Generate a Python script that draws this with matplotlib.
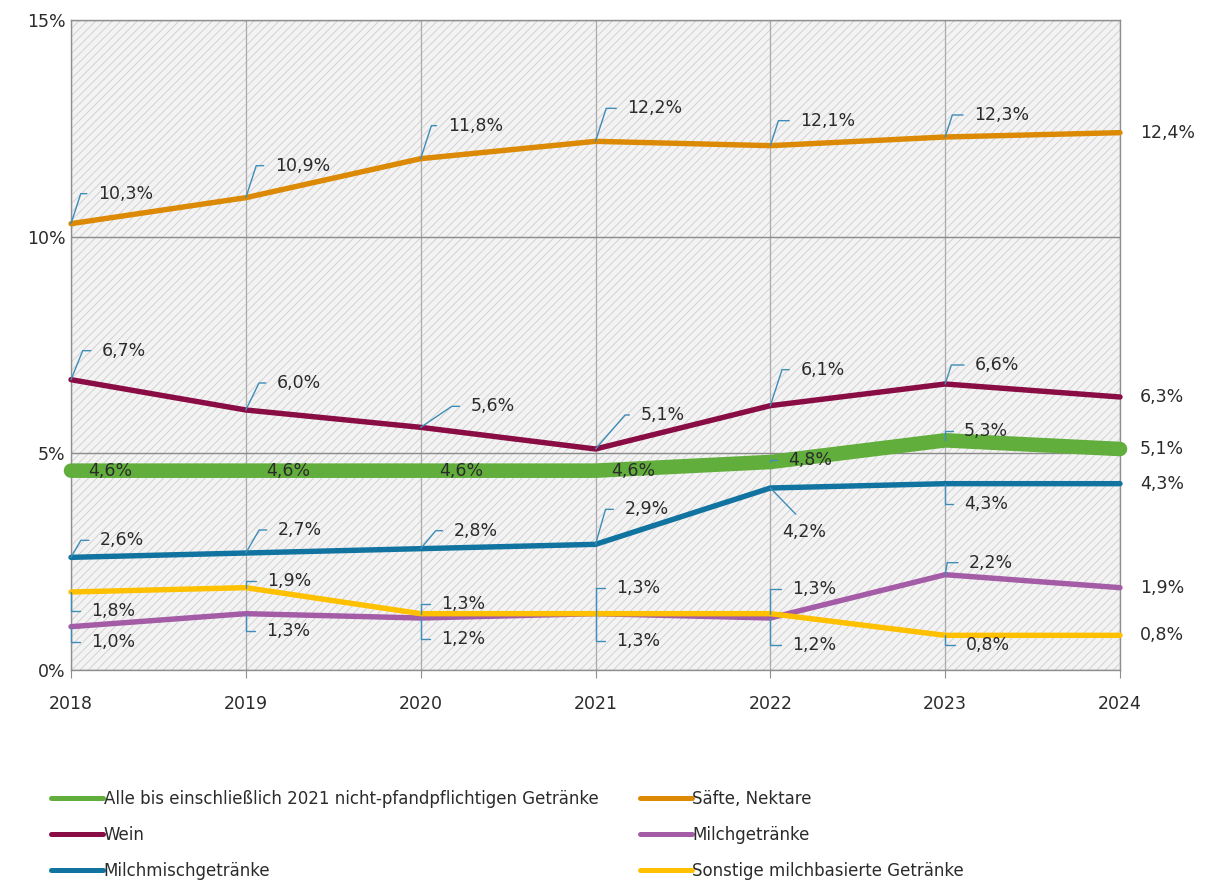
import matplotlib
matplotlib.use("Agg")
import matplotlib.pyplot as plt
from matplotlib.lines import Line2D

# %% Data
years = [2018, 2019, 2020, 2021, 2022, 2023, 2024]
alle = [4.6, 4.6, 4.6, 4.6, 4.8, 5.3, 5.1]
saefte = [10.3, 10.9, 11.8, 12.2, 12.1, 12.3, 12.4]
wein = [6.7, 6.0, 5.6, 5.1, 6.1, 6.6, 6.3]
milchgetraenke = [1.0, 1.3, 1.2, 1.3, 1.2, 2.2, 1.9]
milchmisch = [2.6, 2.7, 2.8, 2.9, 4.2, 4.3, 4.3]
sonstige = [1.8, 1.9, 1.3, 1.3, 1.3, 0.8, 0.8]

names = [
    "Alle bis einschließlich 2021 nicht-pfandpflichtigen Getränke",
    "Säfte, Nektare",
    "Wein",
    "Milchgetränke",
    "Milchmischgetränke",
    "Sonstige milchbasierte Getränke",
]
yticks = [0, 5, 10, 15]

# %% Style
colors = ["#62AE3C", "#DC8A05", "#8A0C44", "#A45CA6", "#11739F", "#FFC000"]
widths = [10.5, 3.9, 3.9, 3.9, 3.9, 3.9]
leader_color = "#3F8DB8"
text_color = "#2B2B2B"

# label layout per series: (dx px, dy px, leader angle or None); "diag" = straight leader
layouts = [
    [(17, 0, None), (20, 0, None), (19, 0, None), (16, 0, None), (18, 2, 90), (19, 9, 90), (20, 0, None)],
    [(27, 30, 72), (29, 32, 72), (27, 33, 72), (32, 33, 72), (30, 25, 72), (29, 22, 72), (20, 0, None)],
    [(31, 29, 68), (31, 27, 64), (50, 21, 34), (45, 34, 49), (30, 36, 72), (30, 19, 72), (20, 0, None)],
    [(20, -15, 90), (20, -17, 90), (20, -21, 90), (21, -27, 90), (22, -27, 90), (24, 12, 80), (20, 0, None)],
    [(29, 17, 60), (32, 23, 60), (33, 18, 50), (29, 35, 74), (12, -44, "diag"), (19, -20, 90), (20, 0, None)],
    [(20, -19, 90), (21, 7, 90), (20, 10, 90), (21, 26, 90), (22, 25, 90), (21, -10, 90), (20, 0, None)],
]

plt.rcParams["font.family"] = ["DejaVu Sans"]
plt.rcParams["hatch.linewidth"] = 0.6
plt.rcParams["hatch.color"] = "#CDCDCD"

W, H = 1207, 884
fig = plt.figure(figsize=(W / 100, H / 100), dpi=100)
ax = fig.add_axes([71 / W, 1 - 670 / H, (1120 - 71) / W, (670 - 20) / H])

ax.patch.set_facecolor("#F3F3F3")
ax.patch.set_edgecolor("#CDCDCD")
ax.patch.set_hatch("////")

series = [alle, saefte, wein, milchgetraenke, milchmisch, sonstige]
for vals, col, lw in zip(series, colors, widths):
    ax.plot(years, vals, color=col, lw=lw, solid_capstyle="round", solid_joinstyle="round",
            zorder=3, clip_on=False)


def fmt(v):
    return f"{v:.1f}%".replace(".", ",")


for vals, layout in zip(series, layouts):
    for x, v, (dx, dy, ang) in zip(years, vals, layout):
        kw = dict(textcoords="offset pixels", ha="left", va="center",
                  fontsize=12.5, color=text_color, zorder=5, annotation_clip=False)
        if ang is None:
            ax.annotate(fmt(v), (x, v), xytext=(dx, dy), **kw)
        elif ang == "diag":
            ax.annotate(fmt(v), (x, v), xytext=(dx, dy),
                        arrowprops=dict(arrowstyle="-", color=leader_color, lw=1,
                                        relpos=(0.5, 1.0), shrinkA=6, shrinkB=0), **kw)
        else:
            ax.annotate(fmt(v), (x, v), xytext=(dx, dy),
                        arrowprops=dict(arrowstyle="-", color=leader_color, lw=1,
                                        connectionstyle=f"angle,angleA=0,angleB={ang},rad=0",
                                        relpos=(0.0, 0.5), shrinkA=6, shrinkB=0), **kw)

ax.set_xlim(years[0], years[-1])
ax.set_ylim(yticks[0], yticks[-1])
ax.set_xticks(years)
ax.set_yticks(yticks)
ax.set_yticklabels([f"{t}%" for t in yticks])
ax.grid(axis="x", color="#ABABAB", lw=0.9)
ax.grid(axis="y", color="#8A8A8A", lw=1.0)
ax.set_axisbelow(True)
for s in ax.spines.values():
    s.set_color("#8F8F8F")
    s.set_linewidth(1.0)
ax.tick_params(axis="x", direction="out", length=6, color="#8F8F8F", pad=12,
               labelsize=12.5, labelcolor=text_color)
ax.tick_params(axis="y", length=0, pad=4, labelsize=12.5, labelcolor=text_color)

# %% Legend in two columns
handles = [Line2D([], [], color=c, lw=3.6, solid_capstyle="round") for c in colors]
leg_font = dict(family=["DejaVu Sans"], size=12)
for idx, x0 in [([0, 2, 4], 51), ([1, 3, 5], 640)]:
    leg = fig.legend([handles[i] for i in idx], [names[i] for i in idx],
                     loc="center left", bbox_to_anchor=(x0 / W, 1 - 835 / H),
                     frameon=False, prop=leg_font, handlelength=3.1, handletextpad=0.05,
                     labelspacing=1.08, borderpad=0, borderaxespad=0)
    for t in leg.get_texts():
        t.set_color(text_color)

fig.savefig("out.png", dpi=100)
